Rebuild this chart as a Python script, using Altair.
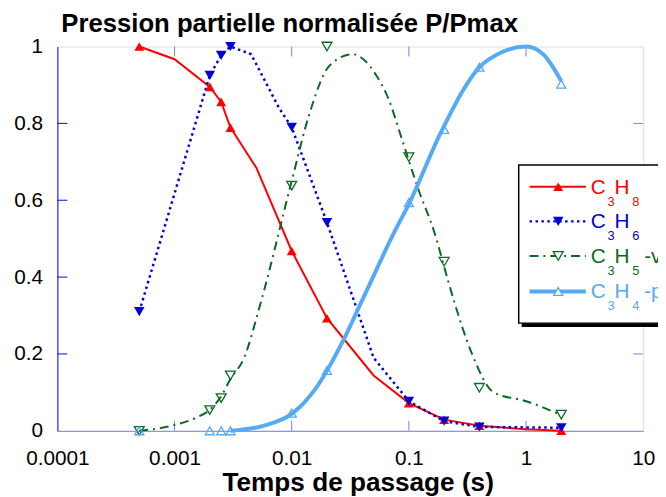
import altair as alt
import pandas as pd

# ---------------- data ----------------
# measured points (markers)
t_pts = [0.0005, 0.002, 0.0025, 0.003, 0.01, 0.02, 0.1, 0.2, 0.4, 2.0]
c3h8_pts = [1.0, 0.895, 0.856, 0.789, 0.468, 0.293, 0.072, 0.029, 0.013, 0.0]
c3h6_pts = [0.31, 0.925, 0.977, 1.0, 0.79, 0.542, 0.077, 0.025, 0.01, 0.008]
c3h5_pts = [0.0, 0.054, 0.085, 0.144, 0.638, 1.0, 0.712, 0.44, 0.112, 0.042]
c3h4_pts = [0.0, 0.0, 0.0, 0.0, 0.046, 0.157, 0.594, 0.784, 0.946, 0.902]

# drawn curves
c3h8_line_t = [0.0005, 0.001, 0.002, 0.0025, 0.003, 0.005, 0.01, 0.02, 0.05, 0.1, 0.2, 0.4, 1.0, 2.0]
c3h8_line = [1.0, 0.967, 0.895, 0.856, 0.789, 0.684, 0.468, 0.293, 0.144, 0.072, 0.029, 0.013, 0.004, 0.0]

c3h6_line_t = [0.0005, 0.002, 0.0025, 0.003, 0.0045, 0.0078, 0.01, 0.02, 0.05, 0.1, 0.2, 0.4, 2.0]
c3h6_line = [0.31, 0.925, 0.977, 1.0, 0.98, 0.84, 0.79, 0.542, 0.19, 0.077, 0.025, 0.01, 0.008]

c3h5_line_t = [0.0005, 0.001, 0.0015, 0.002, 0.0025, 0.003, 0.0039, 0.0054, 0.01, 0.014, 0.021,
               0.033, 0.052, 0.067, 0.087, 0.12, 0.166, 0.215, 0.245, 0.34, 0.53, 1.0, 2.0]
c3h5_line = [0.0, 0.015, 0.033, 0.055, 0.09, 0.135, 0.188, 0.33, 0.65, 0.82, 0.95,
             0.98, 0.928, 0.864, 0.76, 0.63, 0.514, 0.393, 0.334, 0.206, 0.10, 0.077, 0.041]

c3h4_line_t = [0.003, 0.0057, 0.01, 0.016, 0.027, 0.04, 0.076, 0.1, 0.19, 0.4, 0.62, 1.0, 1.4, 2.0]
c3h4_line = [0.0, 0.013, 0.044, 0.11, 0.23, 0.34, 0.52, 0.59, 0.78, 0.946, 0.985, 1.0, 0.98, 0.91]

x_tick_values = [0.0001, 0.001, 0.01, 0.1, 1, 10]
x_inner_ticks = [0.001, 0.01, 0.1, 1]
y_tick_values = [0, 0.2, 0.4, 0.6, 0.8, 1]
y_inner_ticks = [0.2, 0.4, 0.6, 0.8]

title_text = "Pression partielle normalisée P/Pmax"
x_title = "Temps de passage (s)"

# ---------------- styling ----------------
W, H = 593, 389
FONT = "Liberation Sans"
RED, BLUE, GREEN, LBLUE = "#ff0000", "#0000d8", "#0b6a22", "#55aaf5"
AXIS_BLUE, FRAME_BLUE = "#0000ff", "#7b7be6"

xscale = alt.Scale(type="log", domain=[0.0001, 10])
yscale = alt.Scale(domain=[0, 1], nice=False)

series = [
    # name, pts, line_t, line_v, color, shape, filled, dash, width, interp, size
    ("C3H8", c3h8_pts, c3h8_line_t, c3h8_line, RED, "triangle-up", True, None, 2, "linear", 100),
    ("C3H6", c3h6_pts, c3h6_line_t, c3h6_line, BLUE, "triangle-down", True, [2.5, 3.5], 2.5, "linear", 115),
    ("C3H5-v", c3h5_pts, c3h5_line_t, c3h5_line, GREEN, "triangle-down", False, [9, 5, 2, 5], 2, "monotone", 100),
    ("C3H4-p", c3h4_pts, c3h4_line_t, c3h4_line, LBLUE, "triangle-up", False, None, 4, "monotone", 85),
]

xaxis = alt.Axis(values=x_tick_values, format="~g", labelFont=FONT, labelFontSize=21,
                 labelColor="black", ticks=False, tickSize=0, labelPadding=34,
                 labelBaseline="alphabetic", labelFlush=False, labelOverlap=False,
                 domainColor=FRAME_BLUE, grid=False, title=x_title, titleFont=FONT,
                 titleFontSize=26.5, titleFontWeight="bold", titleColor="black",
                 titleX=304, titleY=60, titleBaseline="alphabetic", titleAlign="center")
yaxis = alt.Axis(values=y_tick_values, format="~g", labelFont=FONT, labelFontSize=21,
                 labelColor="black", ticks=False, tickSize=0, labelPadding=15,
                 labelBaseline="middle", labelFlush=False, labelOverlap=False,
                 domainColor=AXIS_BLUE, grid=False, title=None)

X = lambda f="t": alt.X(f"{f}:Q", scale=xscale, axis=xaxis, title=x_title)
Y = lambda f="v": alt.Y(f"{f}:Q", scale=yscale, axis=yaxis, title=None)

line_layers, point_layers = [], []
for name, pts, lt, lv, col, shape, filled, dash, sw, interp, size in series:
    dl = pd.DataFrame({"t": lt, "v": lv})
    dp = pd.DataFrame({"t": t_pts, "v": pts})
    mk = dict(color=col, strokeWidth=sw, interpolate=interp, clip=False)
    if dash:
        mk["strokeDash"] = dash
    line_layers.append(alt.Chart(dl).mark_line(**mk).encode(x=X(), y=Y()))
    pm = dict(shape=shape, size=size, filled=filled, color=col, opacity=1, clip=False)
    if not filled:
        pm["strokeWidth"] = 1.3
    point_layers.append(alt.Chart(dp).mark_point(**pm).encode(x=X(), y=Y()))

# inward ticks
xt = pd.DataFrame({"t": x_inner_ticks})
yt = pd.DataFrame({"v": y_inner_ticks})
tick_layers = [
    alt.Chart(xt).mark_rule(color=FRAME_BLUE, strokeWidth=1).encode(
        x=X(), y=alt.value(H - 10), y2=alt.value(H)),
    alt.Chart(xt).mark_rule(color=FRAME_BLUE, strokeWidth=1).encode(
        x=X(), y=alt.value(0), y2=alt.value(10)),
    alt.Chart(yt).mark_rule(color=AXIS_BLUE, strokeWidth=1).encode(
        y=Y(), x=alt.value(0), x2=alt.value(10)),
    alt.Chart(yt).mark_rule(color=FRAME_BLUE, strokeWidth=1).encode(
        y=Y(), x=alt.value(W - 10), x2=alt.value(W)),
]

# ---------------- custom legend (box with shadow, subscripts) ----------------
one = pd.DataFrame({"a": [0]})
leg = []
leg.append(alt.Chart(one).mark_rect(color="black").encode(
    x=alt.value(470), x2=alt.value(660), y=alt.value(124), y2=alt.value(284)))
leg.append(alt.Chart(one).mark_rect(fill="white", stroke="black", strokeWidth=1.5).encode(
    x=alt.value(467), x2=alt.value(656), y=alt.value(120), y2=alt.value(280)))

legend_labels = [("C", "3", "H", "8", ""), ("C", "3", "H", "6", ""),
                 ("C", "3", "H", "5", "-v"), ("C", "3", "H", "4", "-p")]
row_y = [142, 177, 212, 248]
for (name, pts, lt, lv, col, shape, filled, dash, sw, interp, size), lab, ry in zip(series, legend_labels, row_y):
    rk = dict(color=col, strokeWidth=sw)
    if dash:
        rk["strokeDash"] = dash
    leg.append(alt.Chart(one).mark_rule(**rk).encode(
        x=alt.value(478), x2=alt.value(535), y=alt.value(ry)))
    pm = dict(shape=shape, size=size, filled=filled, color=col, opacity=1)
    if not filled:
        pm["strokeWidth"] = 1.3
        pm["fill"] = "white"
    leg.append(alt.Chart(one).mark_point(**pm).encode(x=alt.value(507), y=alt.value(ry)))
    pieces = [(lab[0], 540, 7, 21), (lab[1], 557, 19, 13), (lab[2], 564, 7, 21),
              (lab[3], 582, 19, 13), (lab[4], 594, 7, 21)]
    for txt, px, dy, fs in pieces:
        if not txt:
            continue
        leg.append(alt.Chart(one).mark_text(text=txt, font=FONT, fontSize=fs, color=col,
                                            align="left", baseline="alphabetic").encode(
            x=alt.value(px), y=alt.value(ry + dy)))

chart = alt.layer(*tick_layers, *line_layers, *point_layers, *leg).properties(
    width=W, height=H,
    title=alt.TitleParams(title_text, anchor="start", frame="group", dx=4, offset=-22,
                          font=FONT, fontSize=26, fontWeight="bold", color="black",
                          baseline="alphabetic"),
    padding={"left": 50, "top": 36, "right": 15, "bottom": 64},
    autosize=alt.AutoSizeParams(type="none"),
).configure_view(stroke=FRAME_BLUE, strokeWidth=1).configure(background="white")

chart.save("out.html", embed_options={"renderer": "svg", "actions": False})
